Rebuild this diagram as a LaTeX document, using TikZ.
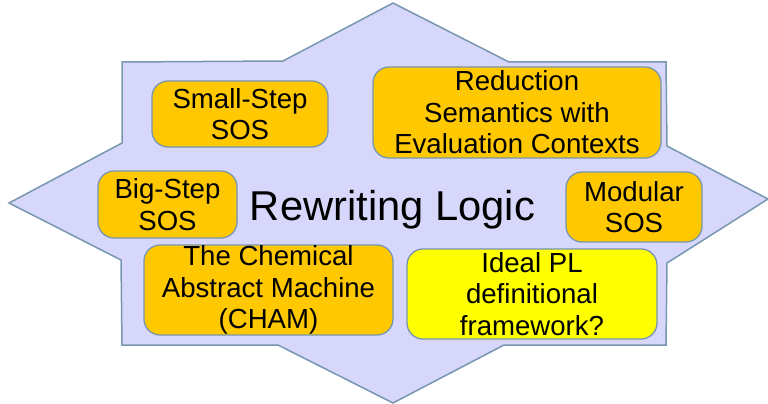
\documentclass[tikz,border=0pt]{standalone}
\usepackage{fontspec}
\setmainfont{Liberation Sans}
\definecolor{starfill}{RGB}{214,215,250}
\definecolor{starline}{RGB}{120,150,175}
\definecolor{boxorange}{RGB}{255,200,0}
\definecolor{boxyellow}{RGB}{255,255,0}
\begin{document}
\begin{tikzpicture}[x=1pt,y=-1pt,
  sem/.style={draw=starline, line width=1.3pt, fill=boxorange, rounded corners=16pt,
    inner sep=0pt, align=center, font=\fontsize{27.6}{31.5}\selectfont},
  ideal/.style={sem, fill=boxyellow},
  star/.style={draw=starline, fill=starfill, line width=1.5pt, line join=miter}
]
\useasboundingbox (0,0) rectangle (768,404);
\draw[star] (9,203) -- (122,143) -- (122,62) -- (283,61) -- (393,3) -- (509,62)
  -- (666,62) -- (667,146) -- (768,199) -- (667,263) -- (666,345) -- (504,345)
  -- (393,403) -- (278,345) -- (122,345) -- (121,260) -- cycle;
\node[sem, minimum width=176pt, minimum height=66pt] (small) at (240,114) {Small-Step\\SOS};
\node[sem, minimum width=288pt, minimum height=91pt] (red) at (517,112.5) {Reduction\\Semantics with\\Evaluation Contexts};
\node[sem, minimum width=139pt, minimum height=67pt] (big) at (167.5,204.5) {Big-Step\\SOS};
\node[sem, minimum width=136pt, minimum height=70pt] (mod) at (634,207) {Modular\\SOS};
\node[sem, minimum width=249pt, minimum height=90pt] (cham) at (268.5,290) {The Chemical\\Abstract Machine\\(CHAM)};
\node[ideal, minimum width=250pt, minimum height=90pt] (ideal) at (532,294) {Ideal PL\\definitional\\framework?};
\node[anchor=base, inner sep=0pt, font=\fontsize{41.7}{48}\selectfont] (rl) at (392.5,220) {Rewriting Logic};
\end{tikzpicture}
\end{document}
